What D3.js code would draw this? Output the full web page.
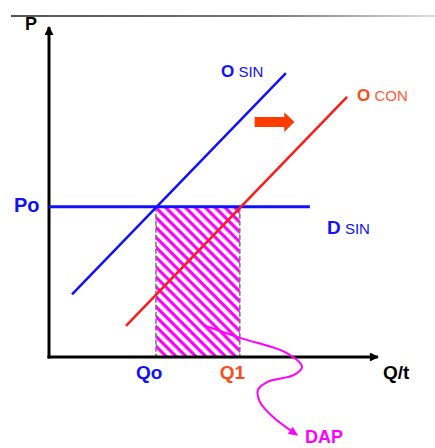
<!DOCTYPE html>
<html><head><meta charset="utf-8">
<script src="https://cdn.jsdelivr.net/npm/d3@7"></script>
<style>
html,body{margin:0;padding:0;background:#fff;}
svg{display:block;font-family:"Liberation Sans",Arial,sans-serif;}
</style></head>
<body>
<script>
// ---- data (economic units, 0..100) ----
const priceLevel = [45.5];                 // Po
const quantities = [32.5, 58];             // Qo, Q1
const quantityLabels = ["Qo", "Q1"];
const supplySin = [[7, 19], [72, 86]];     // O SIN
const supplyCon = [[23.4, 9.4], [90.6, 78.8]]; // O CON
const demandSin = [[0, 45.5], [79.3, 45.5]];   // D SIN
const dapCurve = [[46.8, 9.7], [58.1, 5.8], [72.3, 1.2], [76.9, -3.0], [74.5, -5.4],
                  [66.3, -7.6], [63.5, -10], [64.1, -13.6], [68.1, -18.2], [75.4, -23.6]];
const axisLabels = ["P", "Q/t"];

const W = 435, H = 448;
const svg = d3.select("body").append("svg").attr("width", W).attr("height", H);
const x = d3.scaleLinear().domain([0, 100]).range([49, 378]);
const y = d3.scaleLinear().domain([0, 100]).range([357, 27]);

const blue = "#1010ff", red = "#ff1a1a", orange = "#ff4a1a", mag = "#ff00ff";

const defs = svg.append("defs");
// top gray line gradient
const g = defs.append("linearGradient").attr("id", "topg").attr("x1", "0").attr("x2", "1");
g.append("stop").attr("offset", "0").attr("stop-color", "#555");
g.append("stop").attr("offset", "0.6").attr("stop-color", "#777");
g.append("stop").attr("offset", "1").attr("stop-color", "#ddd");
svg.append("rect").attr("x", 11).attr("y", 15).attr("width", W - 11).attr("height", 2).attr("fill", "url(#topg)");

// hatch pattern
const pat = defs.append("pattern").attr("id", "hatch").attr("patternUnits", "userSpaceOnUse")
  .attr("width", 7).attr("height", 7).attr("patternTransform", "rotate(45)");
pat.append("rect").attr("x", 0).attr("y", 0).attr("width", 7).attr("height", 3.2).attr("fill", mag);

// arrow markers
function marker(id, color, w, h) {
  defs.append("marker").attr("id", id).attr("viewBox", "0 0 10 10").attr("refX", 9).attr("refY", 5)
    .attr("markerWidth", w).attr("markerHeight", h).attr("markerUnits", "userSpaceOnUse")
    .attr("orient", "auto").append("path").attr("d", "M0,0L10,5L0,10Z").attr("fill", color);
}
marker("ax", "#000", 11, 9);
marker("dap", mag, 10, 9);

// hatched area (DAP)
svg.append("rect")
  .attr("x", x(quantities[0])).attr("y", y(priceLevel[0]))
  .attr("width", x(quantities[1]) - x(quantities[0]))
  .attr("height", y(0) - y(priceLevel[0]))
  .attr("fill", "url(#hatch)");
// dashed verticals
quantities.forEach(q => {
  svg.append("line").attr("x1", x(q)).attr("x2", x(q)).attr("y1", y(priceLevel[0])).attr("y2", y(0))
    .attr("stroke", "#777").attr("stroke-width", 1.5).attr("stroke-dasharray", "5,2");
});

// axes
svg.append("line").attr("x1", x(0)).attr("y1", y(0) + 1.5).attr("x2", x(0)).attr("y2", y(100))
  .attr("stroke", "#000").attr("stroke-width", 3).attr("marker-end", "url(#ax)");
svg.append("line").attr("x1", x(0) - 1.5).attr("y1", y(0)).attr("x2", x(100)).attr("y2", y(0))
  .attr("stroke", "#000").attr("stroke-width", 3).attr("marker-end", "url(#ax)");

const line = d3.line().x(d => x(d[0])).y(d => y(d[1]));
svg.append("path").attr("d", line(demandSin)).attr("stroke", blue).attr("stroke-width", 3).attr("fill", "none");
svg.append("path").attr("d", line(supplySin)).attr("stroke", blue).attr("stroke-width", 2.5).attr("fill", "none");
svg.append("path").attr("d", line(supplyCon)).attr("stroke", red).attr("stroke-width", 2.5).attr("fill", "none");

// DAP curve
svg.append("path").attr("d", d3.line().curve(d3.curveCatmullRom).x(d => x(d[0])).y(d => y(d[1]))(dapCurve))
  .attr("stroke", mag).attr("stroke-width", 2).attr("fill", "none").attr("marker-end", "url(#dap)");

// shift arrow
svg.append("path")
  .attr("d", `M${x(62.5)},${y(72.7)}H${x(71.5)}V${y(74.2)}L${x(74.6)},${y(71.2)}L${x(71.5)},${y(68.2)}V${y(69.7)}H${x(62.5)}Z`)
  .attr("fill", "#ff3c00");

// text
function txt(xp, yp, s, size, color, weight) {
  return svg.append("text").attr("x", xp).attr("y", yp).text(s)
    .attr("font-size", size).attr("fill", color).attr("font-weight", weight || "bold");
}
txt(25, 30, axisLabels[0], 18, "#000");
txt(383, 379, axisLabels[1], 19, "#000");
txt(14, 212, "Po", 20, blue);
txt(x(quantities[0]) - 20, 379, quantityLabels[0], 19, blue);
txt(x(quantities[1]) - 20, 379, quantityLabels[1], 19, orange);
const t1 = txt(221, 77, "O", 17, blue);
t1.append("tspan").attr("font-weight", "normal").attr("font-size", 15).text(" SIN");
const t2 = txt(357, 101, "O", 17, orange);
t2.append("tspan").attr("font-weight", "normal").attr("font-size", 15).attr("fill", "#ff5a3a").text(" CON");
const t3 = txt(327, 234, "D", 19, blue);
t3.append("tspan").attr("font-weight", "normal").attr("font-size", 15).text(" SIN");
txt(305, 443, "DAP", 18, mag);
</script>
</body></html>
